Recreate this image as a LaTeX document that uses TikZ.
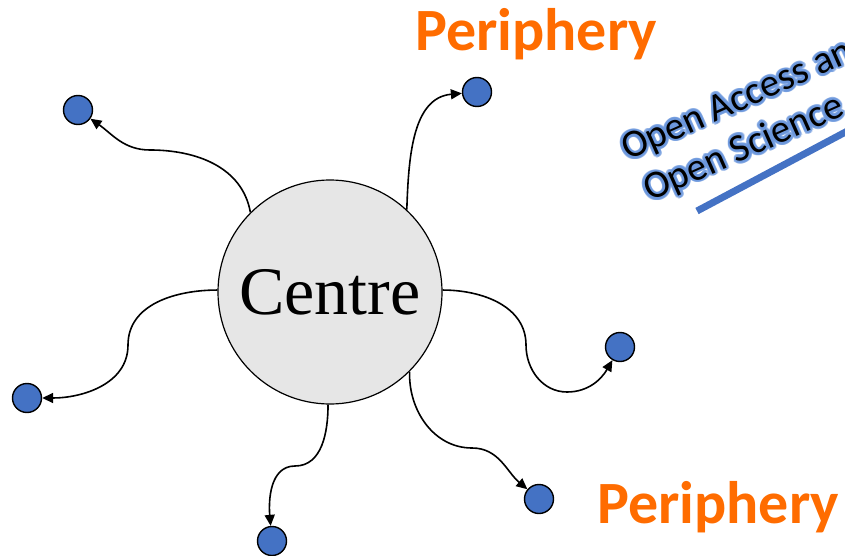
\documentclass[tikz,border=0pt]{standalone}
\usepackage{fontspec}
\setmainfont{Liberation Serif}
\newfontfamily\calib{Carlito}
\usetikzlibrary{arrows.meta, calc}
\definecolor{dotblue}{HTML}{4472C4}
\definecolor{glowblue}{HTML}{6A96DC}
\definecolor{periorange}{RGB}{255,108,0}
\definecolor{centregray}{HTML}{E6E6E6}
\begin{document}
\begin{tikzpicture}[
        x=1pt, y=-1pt,
        centre/.style={circle, draw, line width=1.2pt, fill=centregray, minimum size=224pt, inner sep=0pt, font=\fontsize{68}{70}\selectfont},
        dot/.style={circle, draw, line width=1.4pt, fill=dotblue, minimum size=29pt, inner sep=0pt},
        link/.style={line width=1.6pt, -{Triangle[length=11pt,width=10pt]}},
        peri/.style={anchor=base west, text=periorange, font=\calib\bfseries\fontsize{60}{64}\selectfont, inner sep=0pt},
        oa/.style={anchor=base west, rotate=24, font=\calib\fontsize{39}{42}\selectfont, inner sep=0pt},
    ]
    \useasboundingbox (0, 0) rectangle (845, 556);
    \clip (0, 0) rectangle (845, 556);

    \node[centre] (c) at (330, 292) {Centre};

    \node[dot] (d1) at (78, 110) {};
    \node[dot] (d2) at (477, 92) {};
    \node[dot] (d3) at (620, 347) {};
    \node[dot] (d4) at (27, 398) {};
    \node[dot] (d5) at (272, 541) {};
    \node[dot] (d6) at (539, 499) {};

    \draw[link] (c.135) to[out=100, in=0] (150, 150) to[out=180, in=-35] (d1);
    \draw[link] (c.47) to[out=88, in=185] (d2);
    \draw[link] (c.1) to[out=0, in=90] (526, 345) to[out=-90, in=180] (567, 392) to[out=0, in=-120] (d3);
    \draw[link] (c.179) to[out=180, in=90] (128, 345) to[out=-90, in=0] (d4);
    \draw[link] (c.-91) to[out=-90, in=0] (295, 466) to[out=180, in=95] (d5);
    \draw[link] (c.-45) to[out=-92, in=180] (472, 448) to[out=0, in=140] (d6);

    \node[peri] (p1) at (415, 51) {Periphery};
    \node[peri] (p2) at (597, 523) {Periphery};

    \foreach \a in {0, 20, ..., 340} {
        \node[oa, text=glowblue, opacity=0.5] at ($(628, 161) + (\a:2.8pt)$) {Open Access and};
        \node[oa, text=glowblue, opacity=0.5] at ($(650, 202) + (\a:2.8pt)$) {Open Science};
    }
    \node[oa] (oa1) at (628, 161) {Open Access and};
    \node[oa] (oa2) at (650, 202) {Open Science};

    \draw[dotblue, line width=7pt] (697, 211) -- ++(28:200pt);

\end{tikzpicture}
\end{document}
